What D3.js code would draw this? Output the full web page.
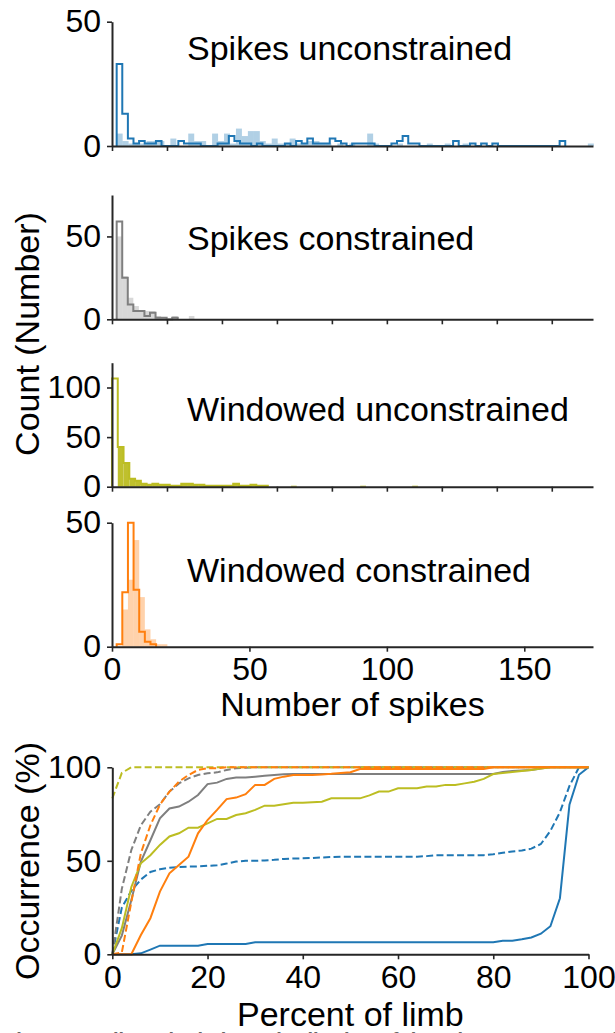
<!DOCTYPE html>
<html>
<head>
<meta charset="utf-8">
<script src="https://cdn.jsdelivr.net/npm/d3@7"></script>
<style>
body { margin: 0; background: #fff; }
text { font-family: "Liberation Sans", Arimo, Arial, Helvetica, sans-serif; }
</style>
</head>
<body>
<script>
// ---- histogram data (counts per bin; bins start at binStart, width binWidth, in spikes) ----
var spikesUncOutline = [33,13,3,1,2,1,1,2,0,0, 0,2,1,1,1,0,0,0,1,1, 4,2,1,1,0,1,0,0,0,0,
                        1,0,2,1,3,1,1,1,3,2, 1,0,1,1,1,1,0,0,0,1, 2,4,1,1,0,0,0,0,0,0,
                        2,0,0,1,0,1,0,1,0,0, 0,0,0,0,0,0,0,0,0,2];
var spikesUncFill    = [5,2,1,1,1,2,2,2,0,3, 0,0,5,2,2,0,5,2,5,1, 7,4,6,6,2,1,3,1,1,3,
                        1,1,2,2,1,1,0,1,0,1, 0,0,5,1,0,0,0,1,0,0, 0,0,1,0,0,1,0,0,1,0,
                        0,0,0,0,0,0,0,0,0,0, 0,0,0,0,0,0,0,0,0,1];
var spikesConOutline = [59,25,9,5,5,2,4,1,1,0,1];
var spikesConFill    = [50,26,13,8,5,5,5,2,1,0,2,0,0,2];
var winUncOutline    = [109,40,24,8,6,3,2,3,2,2,1,1,3,3,2,2,1,1,1,1,1,3,1,1,2,1,1];
var winUncFill       = [0,40,24,8,6,3,2,3,2,2,1,1,3,3,2,2,1,1,1,1,1,3,1,1,2,1,1,0,0,0,
                        0,1,0,0,0,0,0,0,0,0, 0,0,0,1,0,0,0,0,0,0, 0,0,1];
var winConOutline    = [1,22,50,23,6,2,1];
var winConFill       = [0,15,27,43,20,7,3,1,1];

var binStart = { spikesUncOutline: 1.7, spikesUncFill: 1.7, spikesCon: 1.7, winUnc: 0, winCon: 1.7 };
var binWidth = { spikesUncOutline: 2.04, spikesUncFill: 2.17, spikesCon: 2.02, winUnc: 2.1, winCon: 2.05 };

var histTickLabels = [0, 50, 100, 150];
var histMinorTicks = [0, 20, 40, 60, 80, 100, 120, 140, 160];

// ---- cumulative occurrence data (percent of limb vs occurrence %) ----
var pctLimb = [0,2,4,6,8,10,12,14,16,18,20,22,24,26,28,30,32,34,36,38,40,42,44,46,48,50,
               52,54,56,58,60,62,64,66,68,70,72,74,76,78,80,82,84,86,88,90,92,94,96,98,100];

var cdfSpikesUnc     = [0,0,0,0.5,2.5,4.6,4.6,4.6,4.6,4.6,5.5,5.5,5.5,5.5,5.5,6.4,
                        6.4,6.4,6.4,6.4,6.4,6.4,6.4,6.4,6.4,6.4,6.4,6.4,6.4,6.4,6.4,6.4,6.4,6.4,6.4,6.4,6.4,6.4,6.4,6.4,6.4,
                        7.3,7.3,8,9,11,15,30,80,96,100];
var cdfSpikesUncDash = [0,25,34,40,44,45.5,46.3,46.7,46.9,47,47.3,47.6,48.5,49.6,50,50,50.2,50.5,51,51.2,51.3,
                        51.5,51.8,52,52.2,52.2,52.2,52.2,52.2,52.2,52.2,52.2,52.2,52.5,53,53,53,53,53,53,
                        53.5,54.3,55,55.5,56.5,59,66,76,90,100,100];
var cdfSpikesCon     = [0,10,29,49.6,61,72.7,78,79,81.6,85.2,91,91.8,93.8,94.5,94.5,95,95.5,95.9,96.3,
                        96.4,96.4,96.4,96.4,96.4,96.4,96.4,96.4,96.4,96.4,96.4,96.4,96.4,96.4,96.4,96.4,96.4,96.4,96.4,96.4,96.4,96.4,
                        97.5,98,98.3,98.6,99.3,100,100,100,100,100];
var cdfSpikesConDash = [0,35,55.8,69,76.3,80.2,87,91.4,94.1,95.9,96.8,97.3,98.6,99.5,99.8,
                        100,100,100,100,100,100,100,100,100,100,100,100,100,100,100,100,100,100,100,100,100,
                        100,100,100,100,100,100,100,100,100,100,100,100,100,100,100];
var cdfWinUnc        = [0,14,36,48.7,53,58.5,63,64.7,67.7,67.7,70,72.4,72.4,74.5,75.4,77.2,79.5,79.5,80.2,81,81,
                        81.3,81.6,83.4,83.4,83.4,83.4,85,87,87,88.8,88.8,88.8,89.7,89.7,90.6,90.6,91.4,92.3,93.8,
                        96.4,97,97.5,98,98.6,99.3,100,100,100,100,100];
var cdfWinUncDash    = [83.4,97,100,100,100,100,100,100,100,100,100,100,100,100,100,100,100,100,100,100,100,
                        100,100,100,100,100,100,100,100,100,100,100,100,100,100,100,100,100,100,100,
                        100,100,100,100,100,100,100,100,100,100,100];
var cdfWinCon        = [0,0,0,10.3,19.3,33.5,43.3,47.8,52.2,64.7,71.8,77.2,83,83.8,85.6,90.6,90.6,93.8,95,95.9,95.9,
                        95.9,96.2,96.5,97,97.4,99.1,99.1,99.1,99.1,99.1,99.1,99.1,99.1,99.1,99.1,99.1,99.1,99.1,99.1,
                        100,100,100,100,100,100,100,100,100,100,100];
var cdfWinConDash    = [0,1,28,54,69,80,87,92.3,95.9,98.6,99.5,99.5,
                        100,100,100,100,100,100,100,100,100,100,100,100,100,100,100,100,100,100,100,100,
                        100,100,100,100,100,100,100,100,100,100,100,100,100,100,100,100,100,100,100];
var cdfTicksX = [0, 20, 40, 60, 80, 100];
var cdfTicksY = [0, 50, 100];

var blue = "#1f77b4", gray = "#7f7f7f", olive = "#bcbd22", orange = "#ff7f0e";
var axisColor = "#262626";
var fontFam = "'Liberation Sans', Arimo, Arial, Helvetica, sans-serif";

var svg = d3.select("body").append("svg")
    .attr("width", 615)
    .attr("height", 1033)
    .attr("font-family", fontFam);

var x = d3.scaleLinear().domain([0, 175]).range([112, 593]);

var panels = [
  {title: "Spikes unconstrained", color: blue, ymax: 50, yticks: [0, 50], top: 21.7, bottom: 146, titleY: 60,
   fill: spikesUncFill, fillStart: binStart.spikesUncFill, fillW: binWidth.spikesUncFill, fillOpacity: 0.35,
   line: spikesUncOutline, lineStart: binStart.spikesUncOutline, lineW: binWidth.spikesUncOutline},
  {title: "Spikes constrained", color: gray, ymax: 75, yticks: [0, 50], top: 195, bottom: 319.3, titleY: 250,
   fill: spikesConFill, fillStart: binStart.spikesCon, fillW: binWidth.spikesCon, fillOpacity: 0.3,
   line: spikesConOutline, lineStart: binStart.spikesCon, lineW: binWidth.spikesCon},
  {title: "Windowed unconstrained", color: olive, ymax: 125, yticks: [0, 50, 100], top: 362.7, bottom: 486.7, titleY: 421,
   fill: winUncFill, fillStart: binStart.winUnc, fillW: binWidth.winUnc, fillOpacity: 0.95,
   line: winUncOutline, lineStart: binStart.winUnc, lineW: binWidth.winUnc},
  {title: "Windowed constrained", color: orange, ymax: 50, yticks: [0, 50], top: 522.7, bottom: 646.7, titleY: 582,
   fill: winConFill, fillStart: binStart.winCon, fillW: binWidth.winCon, fillOpacity: 0.35,
   line: winConOutline, lineStart: binStart.winCon, lineW: binWidth.winCon, labels: true}
];

function styleAxis(g, size) {
  g.attr("font-family", fontFam);
  g.select(".domain").attr("stroke", axisColor).attr("stroke-width", 2);
  g.selectAll(".tick line").attr("stroke", axisColor).attr("stroke-width", 1.6);
  g.selectAll(".tick text").attr("fill", "#000").attr("font-size", size)
    .attr("font-family", fontFam);
}

panels.forEach(function(p) {
  var y = d3.scaleLinear().domain([0, p.ymax]).range([p.bottom, p.top]);
  var g = svg.append("g");

  // filled histogram
  g.selectAll(".bar")
    .data(p.fill.map(function(c, i) { return {i: i, c: c}; }).filter(function(d) { return d.c > 0; }))
    .enter().append("rect")
    .attr("x", function(d) { return x(p.fillStart + d.i * p.fillW); })
    .attr("width", function(d) { return x(p.fillStart + (d.i + 1) * p.fillW) - x(p.fillStart + d.i * p.fillW); })
    .attr("y", function(d) { return y(d.c); })
    .attr("height", function(d) { return y(0) - y(d.c); })
    .attr("fill", p.color)
    .attr("fill-opacity", p.fillOpacity);

  // step outline histogram
  var pts = [[p.lineStart, 0]];
  p.line.forEach(function(c, i) {
    pts.push([p.lineStart + i * p.lineW, c]);
    pts.push([p.lineStart + (i + 1) * p.lineW, c]);
  });
  pts.push([p.lineStart + p.line.length * p.lineW, 0]);
  g.append("path")
    .attr("d", d3.line().x(function(d) { return x(d[0]); }).y(function(d) { return y(d[1]); })(pts))
    .attr("fill", "none")
    .attr("stroke", p.color)
    .attr("stroke-width", 2)
    .attr("stroke-linejoin", "miter");

  // axes
  var ya = g.append("g").attr("transform", "translate(" + x(0) + ",0)")
    .call(d3.axisLeft(y).tickValues(p.yticks).tickSize(5).tickSizeOuter(0).tickPadding(6));
  styleAxis(ya, 32);

  var xa = g.append("g").attr("transform", "translate(0," + p.bottom + ")");
  if (p.labels) {
    xa.call(d3.axisBottom(x).tickValues(histTickLabels).tickSize(5).tickSizeOuter(0).tickPadding(6));
  } else {
    xa.call(d3.axisBottom(x).tickValues(histMinorTicks).tickSize(5).tickSizeOuter(0).tickFormat(""));
  }
  styleAxis(xa, 32);

  g.append("text")
    .attr("x", 187).attr("y", p.titleY)
    .attr("font-size", 34)
    .text(p.title);
});

svg.append("text")
  .attr("transform", "translate(39,334) rotate(-90)")
  .attr("text-anchor", "middle").attr("font-size", 34)
  .text("Count (Number)");

svg.append("text")
  .attr("x", (x(0) + x(175)) / 2).attr("y", 716)
  .attr("text-anchor", "middle").attr("font-size", 34)
  .text("Number of spikes");

// ---- cumulative panel ----
var cx = d3.scaleLinear().domain([0, 100]).range([112.3, 588.5]);
var cy = d3.scaleLinear().domain([0, 100]).range([954.3, 767.3]);

var series = [
  {v: cdfSpikesUnc, c: blue, dash: false},
  {v: cdfSpikesUncDash, c: blue, dash: true},
  {v: cdfSpikesCon, c: gray, dash: false},
  {v: cdfSpikesConDash, c: gray, dash: true},
  {v: cdfWinUnc, c: olive, dash: false},
  {v: cdfWinUncDash, c: olive, dash: true},
  {v: cdfWinConDash, c: orange, dash: true},
  {v: cdfWinCon, c: orange, dash: false}
];

var cline = d3.line()
  .x(function(d, i) { return cx(pctLimb[i]); })
  .y(function(d) { return cy(d); });

var cg = svg.append("g");
series.forEach(function(s) {
  cg.append("path")
    .attr("d", cline(s.v))
    .attr("fill", "none")
    .attr("stroke", s.c)
    .attr("stroke-width", 2)
    .attr("stroke-dasharray", s.dash ? "7,3.3" : null);
});

var cya = cg.append("g").attr("transform", "translate(" + cx(0) + ",0)")
  .call(d3.axisLeft(cy).tickValues(cdfTicksY).tickSize(5).tickSizeOuter(0).tickPadding(6));
styleAxis(cya, 32);
var cxa = cg.append("g").attr("transform", "translate(0," + cy(0) + ")")
  .call(d3.axisBottom(cx).tickValues(cdfTicksX).tickSize(5).tickSizeOuter(0).tickPadding(6));
styleAxis(cxa, 32);

svg.append("text")
  .attr("transform", "translate(39,861) rotate(-90)")
  .attr("text-anchor", "middle").attr("font-size", 34)
  .text("Occurrence (%)");

svg.append("text")
  .attr("x", (cx(0) + cx(100)) / 2).attr("y", 1026)
  .attr("text-anchor", "middle").attr("font-size", 34)
  .text("Percent of limb");

// caption line cut by the page edge
svg.append("text")
  .attr("x", 4).attr("y", 1047)
  .attr("font-size", 20).attr("font-weight", "bold").attr("fill", "#666")
  .text("Figure 3 Spike calculation. Distribution of the. The percentage of spikes");
</script>
</body>
</html>
